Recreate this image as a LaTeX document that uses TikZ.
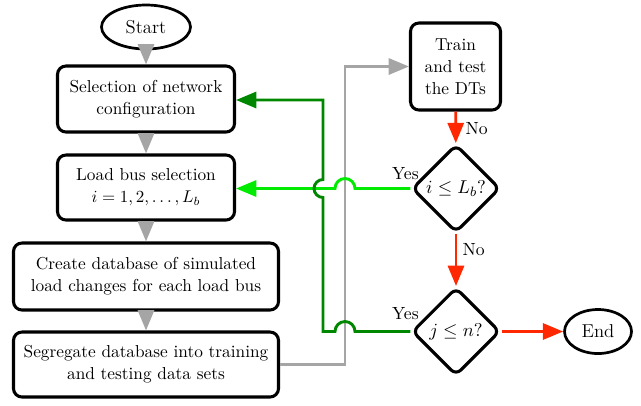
\documentclass[tikz,border=0pt]{standalone}
\usetikzlibrary{shapes.geometric,arrows.meta}
\definecolor{cgray}{RGB}{165,165,165}
\definecolor{dgreen}{RGB}{0,135,0}
\definecolor{bgreen}{RGB}{0,235,0}
\definecolor{cred}{RGB}{255,40,0}
\begin{document}
\begin{tikzpicture}[x=0.59pt,y=-0.59pt,
  box/.style={draw=black,line width=1.8pt,rounded corners=5pt,align=center,inner sep=0pt,font=\fontsize{10.2}{13}\selectfont},
  term/.style={draw=black,line width=1.6pt,ellipse,inner sep=0pt,font=\fontsize{11}{13}\selectfont},
  decision/.style={draw=black,line width=1.8pt,diamond,rounded corners=4pt,inner sep=0pt,minimum width=88*0.59pt,minimum height=88*0.59pt,font=\fontsize{11}{13}\selectfont},
  con/.style={line width=1.7pt,-{Triangle[length=12pt,width=9.5pt]}},
  lbl/.style={font=\fontsize{10.4}{12}\selectfont,inner sep=1pt,text=black}]
\useasboundingbox (0,0) rectangle (641,405);
\node[term,minimum width=89*0.59pt,minimum height=44*0.59pt] (start) at (146,27) {Start};
\node[box,minimum width=177*0.59pt,minimum height=66*0.59pt] (b1) at (146,99) {Selection of network\\configuration};
\node[box,minimum width=177*0.59pt,minimum height=65*0.59pt] (b2) at (146,187.5) {Load bus selection\\$i=1,2,\ldots,L_b$};
\node[box,minimum width=265*0.59pt,minimum height=67*0.59pt] (b3) at (146,276.5) {Create database of simulated\\load changes for each load bus};
\node[box,minimum width=265*0.59pt,minimum height=65*0.59pt] (b4) at (146,364.5) {Segregate database into training\\and testing data sets};
\node[box,minimum width=90*0.59pt,minimum height=87*0.59pt] (train) at (455.5,66.5) {Train\\and test\\the DTs};
\node[decision] (d1) at (456,188.5) {$i\leq L_b?$};
\node[decision] (d2) at (456,331.5) {$j\leq n?$};
\node[term,minimum width=67*0.59pt,minimum height=44*0.59pt] (end) at (598,331.5) {End};
% gray
\draw[con,cgray] (start) -- (b1);
\draw[con,cgray] (b1) -- (b2);
\draw[con,cgray] (b2) -- (b3);
\draw[con,cgray] (b3) -- (b4);
\draw[con,cgray] (b4.east) -- (345,364.5) -- (345,66.5) -- (train.west);
% red
\draw[con,cred] (train) -- (d1) node[lbl,pos=0.55,right,xshift=4pt] {No};
\draw[con,cred] (d1) -- (d2) node[lbl,pos=0.3,right,xshift=2pt] {No};
\draw[con,cred] (d2) -- (end);
% bright green
\draw[con,bgreen] (d1.west) -- (355,188.5) arc[start angle=0,end angle=180,radius=10*0.59pt] -- (b2.east |- 0,188.5);
% dark green
\draw[con,dgreen] (d2.west) -- (355,331.5) arc[start angle=0,end angle=180,radius=10*0.59pt] -- (323,331.5) -- (323,197.5) arc[start angle=-90,end angle=-270,radius=9*0.59pt] -- (323,100) -- (b1.east |- 0,100);
\node[lbl] (y1) at ([xshift=-5*0.59pt,yshift=15*0.59pt]d1.west) {Yes};
\node[lbl] (y2) at ([xshift=-5*0.59pt,yshift=18*0.59pt]d2.west) {Yes};
\end{tikzpicture}
\end{document}
